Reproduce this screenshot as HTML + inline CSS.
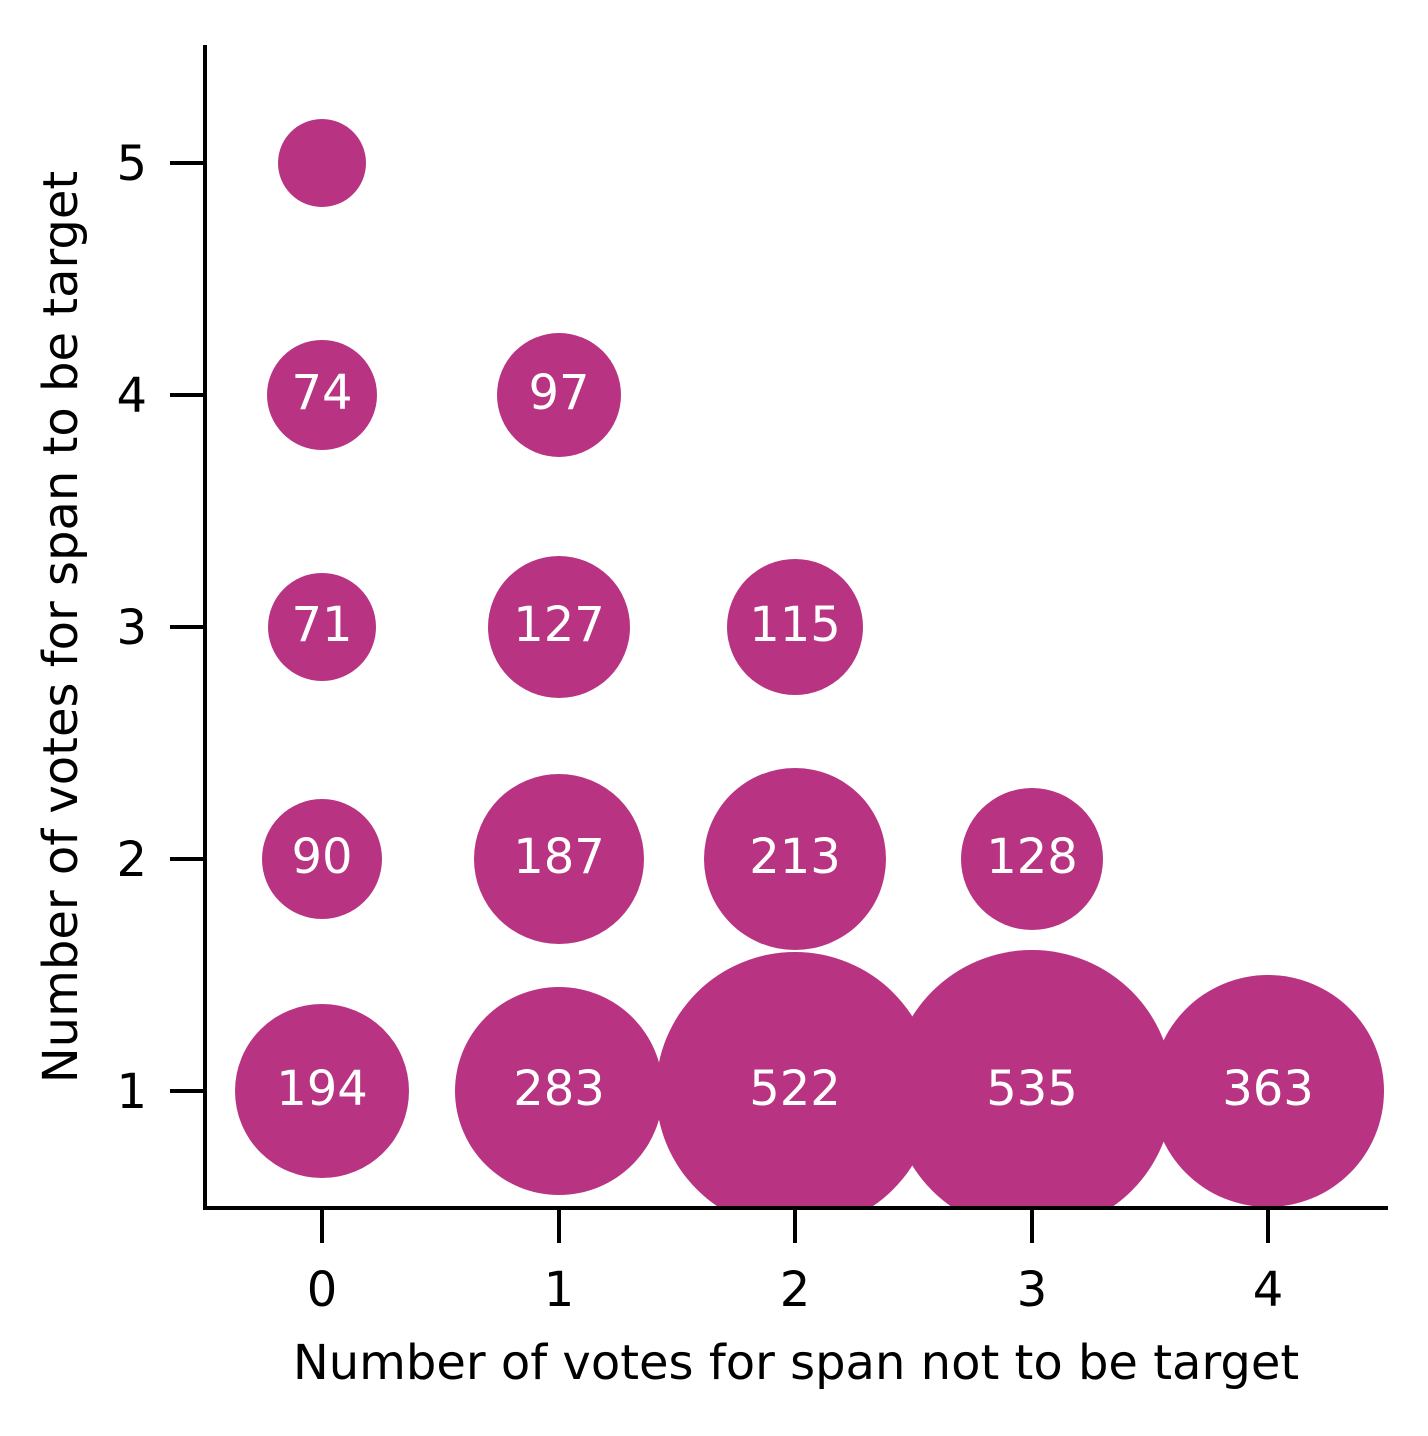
<!DOCTYPE html>
<html><head><style>body{margin:0;background:#fff}</style></head><body>
<svg width="1428" height="1431" xmlns="http://www.w3.org/2000/svg" font-family="'DejaVu Sans', 'Liberation Sans', sans-serif">
<defs><clipPath id="c"><rect x="205" y="45" width="1183" height="1163"/></clipPath></defs>
<g clip-path="url(#c)" fill="#b93383">
<circle cx="322" cy="163" r="44"/>
<circle cx="322" cy="395" r="55"/>
<circle cx="559" cy="395" r="62"/>
<circle cx="322" cy="627" r="54"/>
<circle cx="559" cy="627" r="71"/>
<circle cx="795" cy="627" r="68"/>
<circle cx="322" cy="859" r="60"/>
<circle cx="559" cy="859" r="85"/>
<circle cx="795" cy="859" r="91"/>
<circle cx="1032" cy="859" r="71"/>
<circle cx="322" cy="1091" r="87"/>
<circle cx="559" cy="1091" r="104"/>
<circle cx="795" cy="1091" r="139"/>
<circle cx="1032" cy="1091" r="141"/>
<circle cx="1268" cy="1091" r="116"/>
</g>
<g fill="#fff" font-size="48" text-anchor="middle">
<text x="322" y="409">74</text><text x="559" y="409">97</text>
<text x="322" y="641">71</text><text x="559" y="641">127</text><text x="795" y="641">115</text>
<text x="322" y="873">90</text><text x="559" y="873">187</text><text x="795" y="873">213</text><text x="1032" y="873">128</text>
<text x="322" y="1105">194</text><text x="559" y="1105">283</text><text x="795" y="1105">522</text><text x="1032" y="1105">535</text><text x="1268" y="1105">363</text>
</g>
<g stroke="#000" stroke-width="4" fill="none">
<path d="M205 45V1208H1388"/>
<path d="M322 1208v35M559 1208v35M795 1208v35M1032 1208v35M1268 1208v35"/>
<path d="M205 163h-35M205 395h-35M205 627h-35M205 859h-35M205 1091h-35"/>
</g>
<g font-size="48" fill="#000">
<g text-anchor="middle">
<text x="322" y="1306">0</text><text x="559" y="1306">1</text><text x="795" y="1306">2</text><text x="1032" y="1306">3</text><text x="1268" y="1306">4</text>
<text x="796" y="1379">Number of votes for span not to be target</text>
</g>
<g text-anchor="end">
<text x="147" y="180">5</text><text x="147" y="412">4</text><text x="147" y="644">3</text><text x="147" y="876">2</text><text x="147" y="1108">1</text>
</g>
<text transform="translate(77,627) rotate(-90)" text-anchor="middle">Number of votes for span to be target</text>
</g>
</svg>
</body></html>
